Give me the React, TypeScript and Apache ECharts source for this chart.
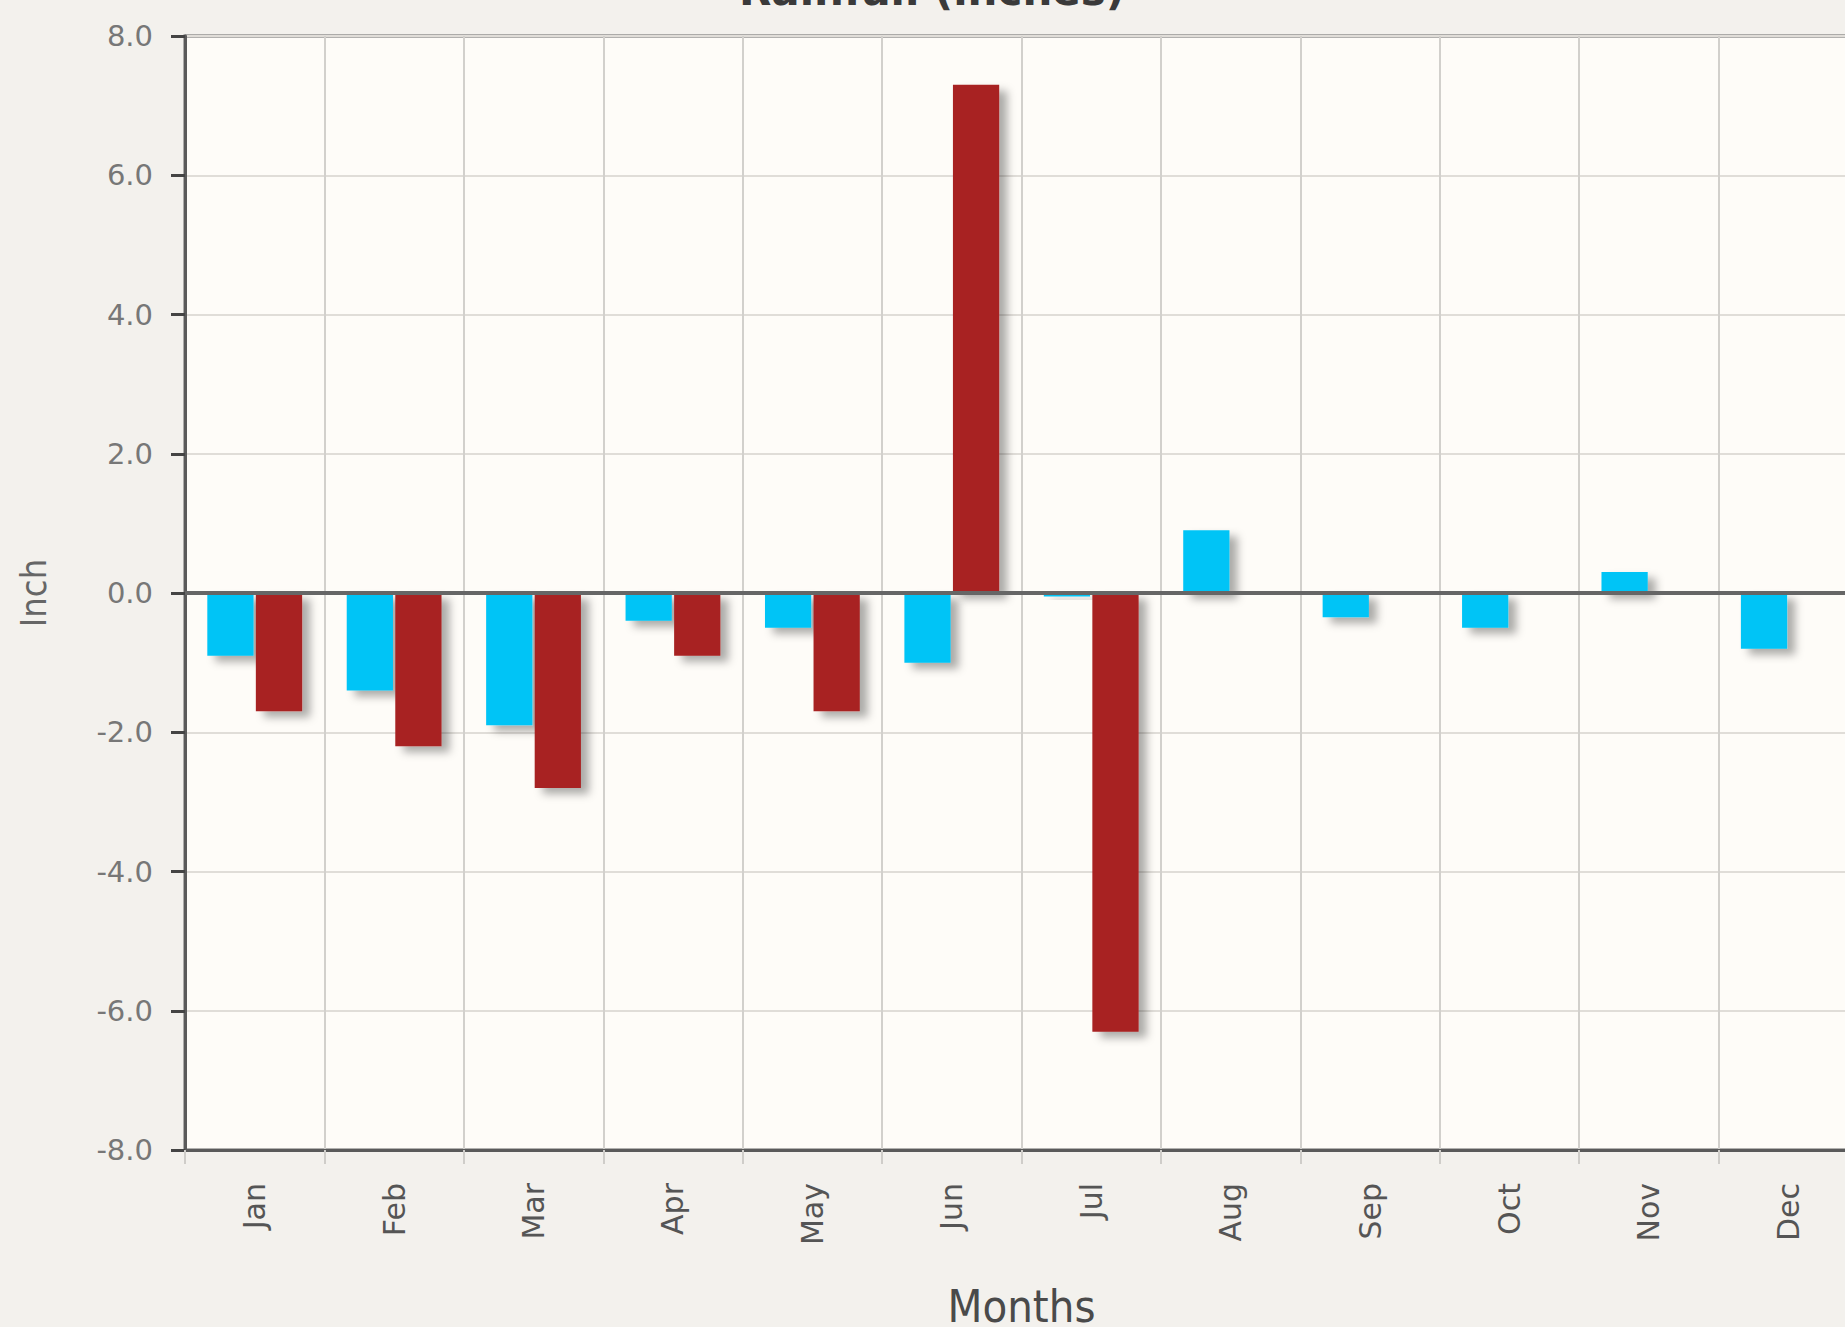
import React, { useEffect, useRef } from "react";
import * as echarts from "echarts";

// Monthly rainfall departures (inches)
const months = ["Jan", "Feb", "Mar", "Apr", "May", "Jun", "Jul", "Aug", "Sep", "Oct", "Nov", "Dec"];
const departureA: (number | null)[] = [-0.9, -1.4, -1.9, -0.4, -0.5, -1.0, -0.05, 0.9, -0.35, -0.5, 0.3, -0.8];
const departureB: (number | null)[] = [-1.7, -2.2, -2.8, -0.9, -1.7, 7.3, -6.3, null, null, null, null, null];

const Y_MIN = -8;
const Y_MAX = 8;
const Y_STEP = 2;

const titleText = "Rainfall (inches)";
const xName = "Months";
const yName = "Inch";

const BLUE = "#00c4f6";
const RED = "#a82222";

export default function App() {
  const ref = useRef<HTMLDivElement>(null);

  useEffect(() => {
    if (!ref.current) return;
    const chart = echarts.init(ref.current, null, { renderer: "svg" });

    const barStyle = (color: string) => ({
      color,
      shadowColor: "rgba(0,0,0,0.32)",
      shadowBlur: 8,
      shadowOffsetX: 8,
      shadowOffsetY: 6,
    });

    chart.setOption({
      animation: false,
      backgroundColor: "#f3f1ed",
      graphic: [
        {
          type: "text",
          x: 932,
          y: 11,
          z: 10,
          style: {
            text: titleText,
            font: 'bold 42px "DejaVu Sans"',
            fill: "#3a3a3a",
            align: "center",
            verticalAlign: "bottom",
          },
        },
      ],
      grid: {
        left: 185,
        top: 36,
        width: 1673,
        bottom: 177,
        outerBoundsMode: "none",
        show: true,
        backgroundColor: "#fefcf8",
        borderColor: "#666",
        borderWidth: 3,
      },
      xAxis: {
        type: "category",
        data: months,
        name: xName,
        nameLocation: "middle",
        nameGap: 134,
        nameTextStyle: {
          fontFamily: '"DejaVu Sans Condensed", "DejaVu Sans"',
          fontSize: 45,
          color: "#4a4a4a",
        },
        axisLine: { onZero: false, lineStyle: { color: "#5a5a5a", width: 3 } },
        axisTick: { show: true, alignWithLabel: false, length: 14, lineStyle: { color: "#cfcdc9", width: 2 } },
        splitLine: { show: true, lineStyle: { color: "#d2d0cc", width: 2 } },
        axisLabel: {
          rotate: 90,
          margin: 33,
          fontFamily: '"DejaVu Sans"',
          fontSize: 30,
          color: "#555",
        },
      },
      yAxis: {
        type: "value",
        min: Y_MIN,
        max: Y_MAX,
        interval: Y_STEP,
        name: yName,
        nameLocation: "middle",
        nameGap: 134,
        nameTextStyle: {
          fontFamily: '"DejaVu Sans Condensed", "DejaVu Sans"',
          fontSize: 36,
          color: "#666",
        },
        axisLine: { show: true, lineStyle: { color: "#5a5a5a", width: 3 } },
        axisTick: { show: true, length: 14, lineStyle: { color: "#444", width: 3 } },
        splitLine: { show: true, lineStyle: { color: "#e0ddd8", width: 2 } },
        axisLabel: {
          margin: 32,
          fontFamily: '"DejaVu Sans"',
          fontSize: 29,
          color: "#777",
          formatter: (v: number) => v.toFixed(1),
        },
      },
      series: [
        {
          name: "Series A",
          type: "bar",
          data: departureA,
          barGap: "5%",
          barCategoryGap: "32%",
          itemStyle: barStyle(BLUE),
          markLine: {
            silent: true,
            symbol: "none",
            label: { show: false },
            lineStyle: { color: "#666", width: 4, type: "solid" },
            data: [{ yAxis: 0 }],
          },
        },
        {
          name: "Series B",
          type: "bar",
          data: departureB,
          barGap: "5%",
          barCategoryGap: "32%",
          itemStyle: barStyle(RED),
        },
      ],
    });

    return () => chart.dispose();
  }, []);

  return (
    <div
      ref={ref}
      style={{ position: "fixed", left: 0, top: 0, width: 1845, height: 1327 }}
    />
  );
}
